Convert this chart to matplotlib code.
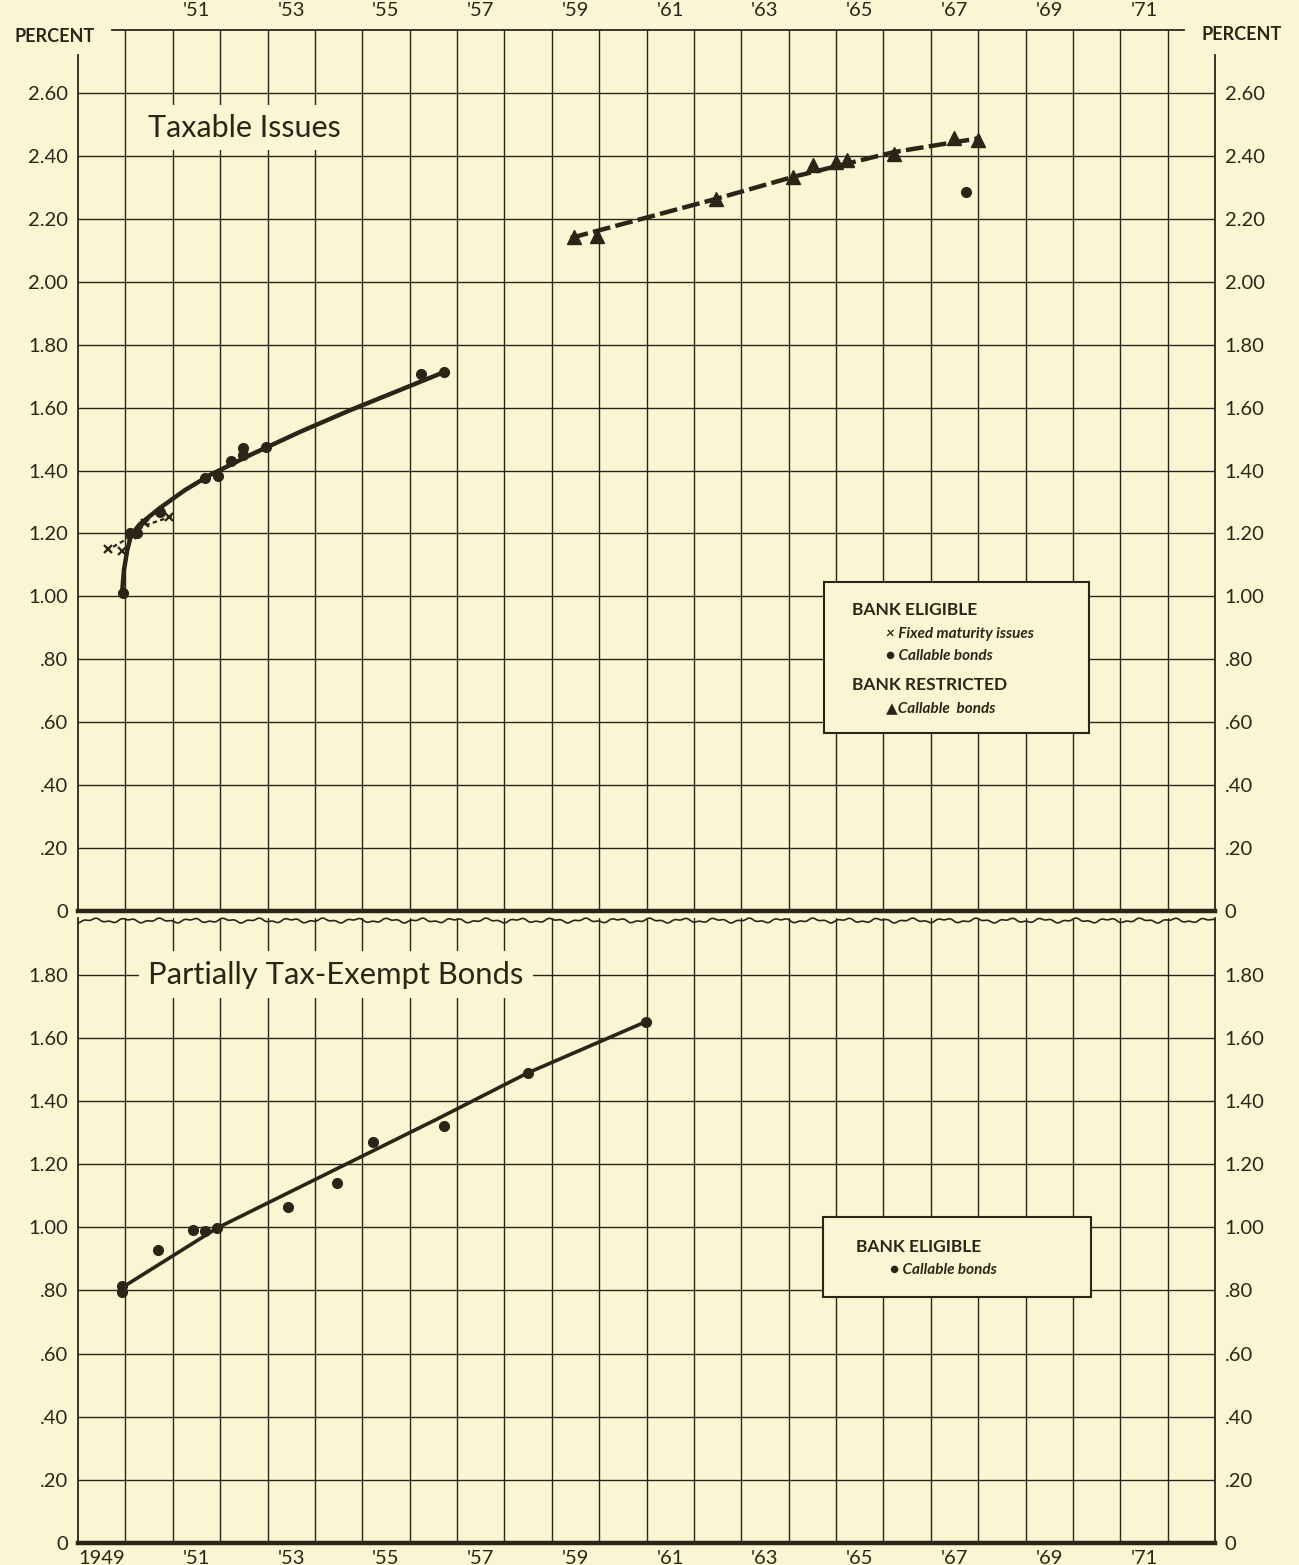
import numpy as np
import matplotlib.pyplot as plt
from matplotlib.patches import Rectangle

# values (year, percent)
# top panel - taxable issues
fixed_years = [1949.63, 1949.93, 1950.14, 1950.42, 1950.92]
fixed_vals = [1.15, 1.145, 1.195, 1.233, 1.252]
fixed_line_years = [1949.6, 1950.0, 1950.4, 1951.0]
fixed_line_vals = [1.145, 1.18, 1.225, 1.255]

call_years = [1949.95, 1950.10, 1950.25, 1950.73, 1951.68, 1951.96, 1952.23,
              1952.49, 1952.49, 1952.97, 1956.23, 1956.73, 1967.74]
call_vals = [1.01, 1.20, 1.20, 1.268, 1.376, 1.383, 1.43,
             1.45, 1.47, 1.475, 1.707, 1.713, 2.286]
call_line_years = [1949.93, 1949.97, 1950.04, 1950.12, 1950.31, 1950.73, 1951.26,
                   1951.79, 1952.63, 1953.69, 1954.75, 1955.80, 1956.73]
call_line_vals = [1.011, 1.084, 1.147, 1.195, 1.230, 1.281, 1.338,
                  1.386, 1.449, 1.523, 1.592, 1.656, 1.713]

restr_years = [1959.46, 1959.96, 1962.46, 1964.09, 1964.51, 1964.99, 1965.23,
               1966.22, 1967.49, 1967.99]
restr_vals = [2.142, 2.146, 2.263, 2.333, 2.371, 2.381, 2.387, 2.406, 2.457, 2.451]
restr_line_years = [1959.40, 1962.46, 1964.09, 1966.22, 1968.06]
restr_line_vals = [2.139, 2.263, 2.333, 2.412, 2.457]

# bottom panel - partially tax-exempt bonds
pte_years = [1949.93, 1949.93, 1950.69, 1951.43, 1951.68, 1951.94, 1953.44,
             1954.47, 1955.23, 1956.73, 1958.49, 1960.98]
pte_vals = [0.795, 0.814, 0.928, 0.992, 0.989, 0.998, 1.065,
            1.141, 1.27, 1.321, 1.489, 1.651]
pte_line_years = [1949.95, 1951.94, 1956.54, 1958.49, 1960.98]
pte_line_vals = [0.811, 0.998, 1.340, 1.489, 1.651]

# axis labels
top_ticks = [0, .2, .4, .6, .8, 1.0, 1.2, 1.4, 1.6, 1.8, 2.0, 2.2, 2.4, 2.6]
top_labels = ['0', '.20', '.40', '.60', '.80', '1.00', '1.20', '1.40', '1.60',
              '1.80', '2.00', '2.20', '2.40', '2.60']
bot_ticks = [0, .2, .4, .6, .8, 1.0, 1.2, 1.4, 1.6, 1.8]
bot_labels = ['0', '.20', '.40', '.60', '.80', '1.00', '1.20', '1.40', '1.60', '1.80']
top_year_labels = ["'51", "'53", "'55", "'57", "'59", "'61", "'63", "'65", "'67", "'69", "'71"]
bot_year_labels = ['1949'] + top_year_labels

bg = '#faf5d2'
ink = '#2b2518'
plt.rcParams['font.family'] = ['Lato', 'DejaVu Sans']
plt.rcParams['text.color'] = ink

fig = plt.figure(figsize=(12.99, 15.65), dpi=100)
fig.patch.set_facecolor(bg)
ax1 = fig.add_axes([0.06005, 0.41789, 0.87529, 0.56294])
ax2 = fig.add_axes([0.06005, 0.01406, 0.87529, 0.39936])

for ax, ytop, yt, yl in [(ax1, 2.8, top_ticks, top_labels), (ax2, 1.98, bot_ticks, bot_labels)]:
    ax.set_facecolor(bg)
    ax.set_xlim(1949, 1973)
    ax.set_ylim(0, ytop)
    ax.set_xticks(range(1950, 1973))
    ax.set_xticklabels([])
    ax.set_yticks(yt)
    ax.set_yticklabels(yl)
    ax.tick_params(axis='both', which='both', length=0, colors=ink, labelsize=14.5)
    ax.tick_params(axis='y', labelright=True, pad=7)
    ax.grid(True, which='major', color=ink, lw=1.0)
    ax.set_axisbelow(True)
    ax.spines['top'].set_visible(False)
    for s in ['left', 'right']:
        ax.spines[s].set_color(ink)
        ax.spines[s].set_linewidth(1.3)
    ax.spines['bottom'].set_color(ink)
    ax.spines['bottom'].set_linewidth(3.2)

ax1.spines['left'].set_bounds(0, 2.72)
ax1.spines['right'].set_bounds(0, 2.72)
ax1.plot([1949.72, 1972.35], [2.8, 2.8], color=ink, lw=1.3, clip_on=False)

ax1.set_xticks([y + 0.5 for y in range(1951, 1972, 2)], top_year_labels, minor=True)
ax1.xaxis.set_ticks_position('top')
ax1.tick_params(axis='x', which='minor', pad=8, labelsize=14.5)
ax2.set_xticks([y + 0.5 for y in range(1949, 1972, 2)], bot_year_labels, minor=True)
ax2.tick_params(axis='x', which='minor', pad=5, labelsize=14.5)

# wavy break line on top of lower panel
wx = np.linspace(1949, 1973, 600)
wy = 1.972 + 0.005 * np.sin(wx * 9.1) + 0.003 * np.sin(wx * 23.7 + 1.3)
ax2.plot(wx, wy, color=ink, lw=1.2, clip_on=False)

# top panel data
ax1.plot(call_line_years, call_line_vals, color=ink, lw=3.2, solid_capstyle='round')
ax1.plot(fixed_line_years, fixed_line_vals, color=ink, lw=1.6, ls=(0, (2, 1.5)))
ax1.plot(fixed_years, fixed_vals, 'x', color=ink, ms=6, mew=1.6)
ax1.plot(call_years, call_vals, 'o', color=ink, ms=7)
ax1.plot(restr_line_years, restr_line_vals, color=ink, lw=3.2, ls=(0, (4, 1.2)))
ax1.plot(restr_years, restr_vals, '^', color=ink, ms=10)

# bottom panel data
ax2.plot(pte_line_years, pte_line_vals, color=ink, lw=2.6)
ax2.plot(pte_years, pte_vals, 'o', color=ink, ms=7)

# panel titles
ax1.text(1950.48, 2.49, 'Taxable Issues', fontsize=22, va='center', ha='left',
         bbox=dict(facecolor=bg, edgecolor='none', pad=6), zorder=4)
ax2.text(1950.48, 1.80, 'Partially Tax-Exempt Bonds', fontsize=22.3, va='center', ha='left',
         bbox=dict(facecolor=bg, edgecolor='none', pad=7), zorder=4)

# legends
ax1.add_patch(Rectangle((1964.74, 0.566), 5.6, 0.48, facecolor=bg, edgecolor=ink, lw=1.5, zorder=4))
ax1.text(1965.33, 0.957, 'BANK ELIGIBLE', fontsize=12.5, weight='bold', va='center', zorder=5)
ax1.text(1966.05, 0.880, '\u00d7 Fixed maturity issues', fontsize=11, style='italic', weight='bold', va='center', zorder=5)
ax1.text(1966.05, 0.811, '\u25cf Callable bonds', fontsize=11, style='italic', weight='bold', va='center', zorder=5)
ax1.text(1965.33, 0.718, 'BANK RESTRICTED', fontsize=12.5, weight='bold', va='center', zorder=5)
ax1.text(1966.05, 0.645, '\u25b2Callable  bonds', fontsize=11, style='italic', weight='bold', va='center', zorder=5)

ax2.add_patch(Rectangle((1964.72, 0.779), 5.66, 0.254, facecolor=bg, edgecolor=ink, lw=1.5, zorder=4))
ax2.text(1965.42, 0.938, 'BANK ELIGIBLE', fontsize=12.5, weight='bold', va='center', zorder=5)
ax2.text(1966.15, 0.865, '\u25cf Callable bonds', fontsize=11, style='italic', weight='bold', va='center', zorder=5)

fig.text(55 / 1299, 1 - 37 / 1565, 'PERCENT', fontsize=13, weight='bold', ha='center', va='center')
fig.text(1242 / 1299, 1 - 35 / 1565, 'PERCENT', fontsize=13, weight='bold', ha='center', va='center')

fig.savefig('out.png', dpi=100, facecolor=bg)
